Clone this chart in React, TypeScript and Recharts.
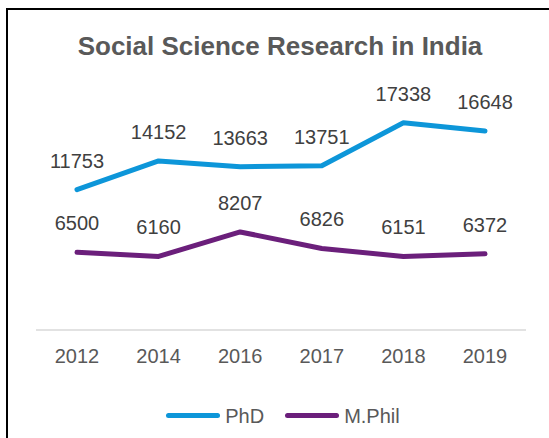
import { LineChart, Line, XAxis, YAxis, Legend, LabelList } from "recharts"

const years = ["2012", "2014", "2016", "2017", "2018", "2019"]
const phd = [11753, 14152, 13663, 13751, 17338, 16648]
const mphil = [6500, 6160, 8207, 6826, 6151, 6372]

const data = years.map((year, i) => ({ year, phd: phd[i], mphil: mphil[i] }))

const BLUE = "#0d96d9"
const PURPLE = "#6b1f7b"
const FONT = "'Liberation Sans', Arial, sans-serif"

const seriesInfo = [
  { key: "phd", name: "PhD", color: BLUE },
  { key: "mphil", name: "M.Phil", color: PURPLE },
]

function ValueLabel(props: any) {
  const { x, y, value } = props
  return (
    <text
      x={x}
      y={y - 29}
      textAnchor="middle"
      dominantBaseline="central"
      fontSize={20}
      fontFamily={FONT}
      fill="#404040"
    >
      {value}
    </text>
  )
}

function LegendRow() {
  return (
    <div
      style={{
        height: 49,
        paddingTop: 22,
        boxSizing: "border-box",
        display: "flex",
        justifyContent: "center",
        fontFamily: FONT,
        fontSize: 20,
        lineHeight: "20px",
        color: "#595959",
        marginLeft: 4,
      }}
    >
      {seriesInfo.map((s, i) => (
        <div key={s.key} style={{ display: "flex", alignItems: "center", marginLeft: i ? 21 : 0 }}>
          <div style={{ width: 54, height: 5, borderRadius: 3, background: s.color, marginRight: 5 }} />
          <span>{s.name}</span>
        </div>
      ))}
    </div>
  )
}

export default function App() {
  return (
    <div style={{ position: "absolute", left: 0, top: 0, width: 549, height: 438, background: "#fff" }}>
      <div
        style={{
          position: "absolute",
          left: 6,
          top: 8,
          right: 0,
          bottom: 0,
          borderTop: "2px solid #000",
          borderLeft: "2px solid #000",
        }}
      />
      <div
        style={{
          position: "absolute",
          left: 0,
          top: 33,
          width: 560,
          textAlign: "center",
          fontFamily: FONT,
          fontWeight: 700,
          fontSize: 26,
          lineHeight: "26px",
          color: "#595959",
        }}
      >
        Social Science Research in India
      </div>
      <div style={{ position: "absolute", left: 0, top: 0 }}>
        <LineChart width={549} height={438} data={data} margin={{ top: 91, right: 23, bottom: 9, left: 36 }}>
          <XAxis
            dataKey="year"
            height={50}
            padding={{ left: 41, right: 41 }}
            tickLine={false}
            tickMargin={13}
            axisLine={{ stroke: "#d9d9d9", strokeWidth: 1.5 }}
            tick={{ fontSize: 20, fontFamily: FONT, fill: "#595959" }}
          />
          <YAxis hide domain={[0, 20000]} />
          <Legend verticalAlign="bottom" content={() => <LegendRow />} />
          <Line
            dataKey="phd"
            name="PhD"
            stroke={BLUE}
            strokeWidth={5}
            strokeLinecap="round"
            strokeLinejoin="round"
            dot={false}
            activeDot={false}
            isAnimationActive={false}
          >
            <LabelList dataKey="phd" content={ValueLabel} />
          </Line>
          <Line
            dataKey="mphil"
            name="M.Phil"
            stroke={PURPLE}
            strokeWidth={5}
            strokeLinecap="round"
            strokeLinejoin="round"
            dot={false}
            activeDot={false}
            isAnimationActive={false}
          >
            <LabelList dataKey="mphil" content={ValueLabel} />
          </Line>
        </LineChart>
      </div>
    </div>
  )
}
